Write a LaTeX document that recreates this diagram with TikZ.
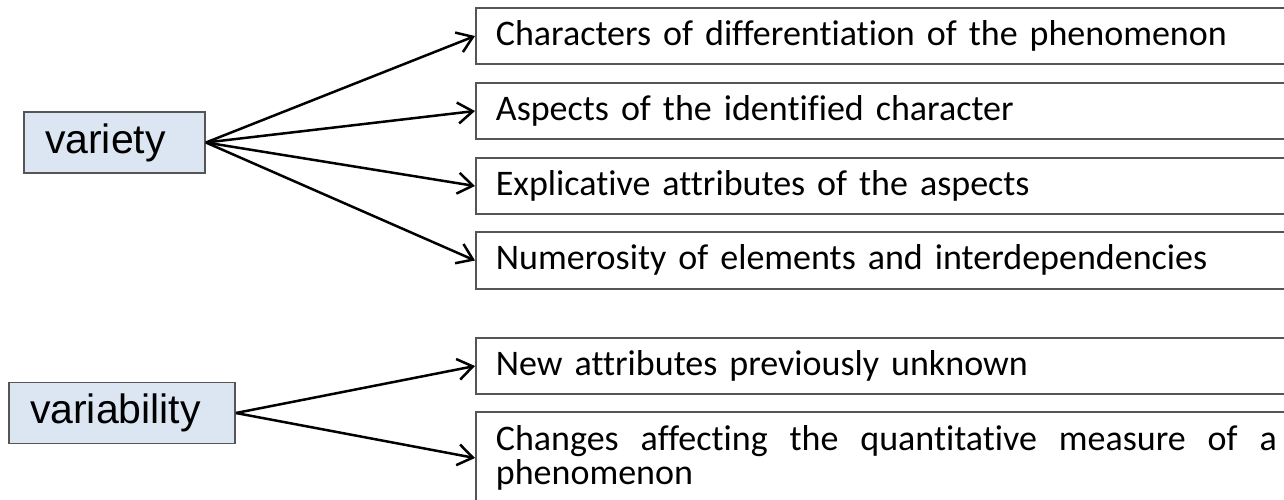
\documentclass[tikz,border=0pt]{standalone}
\usepackage{fontspec}
\setmainfont{Carlito}[Ligatures={NoCommon}]
\newfontfamily\arialf{Liberation Sans}
\usetikzlibrary{arrows.meta}
\definecolor{boxfill}{HTML}{DCE6F2}
\definecolor{boxline}{HTML}{555555}
\tikzset{
  catbox/.style={draw=boxline, line width=1.8pt, fill=boxfill, anchor=center,
    inner xsep=21pt, inner ysep=0pt, minimum height=61pt, align=left,
    font=\arialf\fontsize{41}{46}\selectfont},
  itembox/.style={draw=boxline, line width=1.8pt, anchor=west, inner xsep=20pt,
    inner ysep=0pt, minimum width=840pt, text width=800pt, align=left,
    font=\fontsize{36}{33.5}\selectfont, text height=26pt, text depth=8pt},
  conn/.style={line width=2.5pt, -{Straight Barb[length=15pt,width=21pt,line width=2.5pt]}}
}
\begin{document}
\begin{tikzpicture}[x=1pt,y=-1pt]
\useasboundingbox (0,0) rectangle (1284,499);
\clip (0,0) rectangle (1284,499);
\fill[white] (0,0) rectangle (1284,499);
% left category boxes
\node[catbox, text width=139pt] (variety) at (114.5,142.5) {variety};
\node[catbox, text width=184pt] (variability) at (122,413) {variability};
% right item boxes
\node[itembox, minimum height=56pt] (c1) at (475,36) {Characters of differentiation of the phenomenon};
\node[itembox, minimum height=56pt] (c2) at (475,111) {Aspects of the identified character};
\node[itembox, minimum height=56pt] (c3) at (475,186) {Explicative attributes of the aspects};
\node[itembox, minimum height=57pt] (c4) at (475,260.5) {Numerosity of elements and interdependencies};
\node[itembox, minimum height=56pt] (c5) at (475,366) {New attributes previously unknown};
\node[draw=boxline, line width=1.8pt, anchor=west, inner xsep=20pt, inner ysep=0pt,
  minimum width=821pt, minimum height=92pt, text width=781pt, align=justify,
  font=\fontsize{36}{33.5}\selectfont] (c6) at (475,458)
  {Changes affecting the quantitative measure of a\linebreak phenomenon};
% connectors
\draw[conn] (variety.east) -- (c1.west);
\draw[conn] (variety.east) -- (c2.west);
\draw[conn] (variety.east) -- (c3.west);
\draw[conn] (variety.east) -- (c4.west);
\draw[conn] (variability.east) -- (c5.west);
\draw[conn] (variability.east) -- (c6.west);
\end{tikzpicture}
\end{document}
